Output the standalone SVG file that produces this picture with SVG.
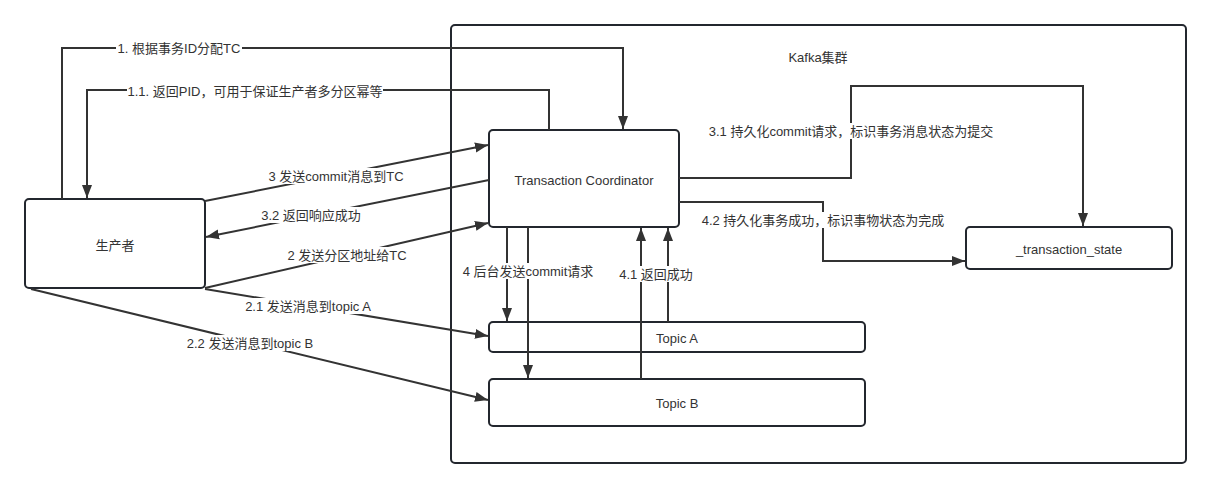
<svg xmlns="http://www.w3.org/2000/svg" width="1212" height="488" viewBox="0 0 1212 488">
<style>
.box{fill:#fff;stroke:#23272e;stroke-width:2}
.ln{fill:none;stroke:#333;stroke-width:2}
text{font-family:"Liberation Sans","Noto Sans CJK SC",sans-serif;fill:#333;text-anchor:middle;dominant-baseline:central}
.nt{font-size:13px}
.lb{font-size:13px}
.bg{fill:#fff}
</style>
<defs>
<marker id="ar" markerUnits="userSpaceOnUse" markerWidth="14" markerHeight="12" viewBox="0 0 14 12" refX="13" refY="6" orient="auto">
<path d="M0,1 L13,6 L0,11 Z" fill="#333"/>
</marker>
</defs>
<rect width="1212" height="488" fill="#fff"/>
<g id="kafka">
<rect class="box" x="451" y="25" width="735" height="438" rx="4" fill="none"/>
<text class="nt" x="818" y="57">Kafka集群</text>
</g>
<g id="producer">
<rect class="box" x="25" y="199" width="180" height="89" rx="4"/>
<text class="nt" x="115" y="245">生产者</text>
</g>
<g id="tc">
<rect class="box" x="489" y="130" width="190" height="97" rx="4"/>
<text class="nt" x="584" y="180">Transaction Coordinator</text>
</g>
<g id="ts">
<rect class="box" x="966" y="227" width="206" height="42" rx="4"/>
<text class="nt" x="1069" y="249">_transaction_state</text>
</g>
<g id="topicA">
<rect class="box" x="489" y="322" width="376" height="30" rx="4"/>
<text class="nt" x="677" y="338">Topic A</text>
</g>
<g id="topicB">
<rect class="box" x="489" y="379" width="376" height="47" rx="4"/>
<text class="nt" x="677" y="403">Topic B</text>
</g>
<g id="connectors">
<path class="ln" d="M62,199 V48 H623 V129" marker-end="url(#ar)"/>
<path class="ln" d="M549,130 V90 H87 V198" marker-end="url(#ar)"/>
<path class="ln" d="M205,201 L488,145" marker-end="url(#ar)"/>
<path class="ln" d="M489,180 L206,237" marker-end="url(#ar)"/>
<path class="ln" d="M205,288 L488,223" marker-end="url(#ar)"/>
<path class="ln" d="M205,289 L488,336" marker-end="url(#ar)"/>
<path class="ln" d="M31,289 L488,400" marker-end="url(#ar)"/>
<path class="ln" d="M507,227 V321" marker-end="url(#ar)"/>
<path class="ln" d="M528,227 V378" marker-end="url(#ar)"/>
<path class="ln" d="M641,379 V228" marker-end="url(#ar)"/>
<path class="ln" d="M668,322 V228" marker-end="url(#ar)"/>
<path class="ln" d="M679,178 H851 V86 H1083 V226" marker-end="url(#ar)"/>
<path class="ln" d="M679,202 H823 V261 H965" marker-end="url(#ar)"/>
<rect class="bg" x="116" y="40" width="126" height="16"/>
<text class="lb" x="179" y="48">1. 根据事务ID分配TC</text>
<rect class="bg" x="127" y="83" width="256" height="16"/>
<text class="lb" x="255" y="91">1.1. 返回PID，可用于保证生产者多分区幂等</text>
<rect class="bg" x="267" y="168" width="139" height="16"/>
<text class="lb" x="336" y="176">3 发送commit消息到TC</text>
<rect class="bg" x="262" y="207" width="99" height="16"/>
<text class="lb" x="311" y="215">3.2 返回响应成功</text>
<rect class="bg" x="288" y="247" width="118" height="16"/>
<text class="lb" x="347" y="255">2 发送分区地址给TC</text>
<rect class="bg" x="243" y="298" width="130" height="16"/>
<text class="lb" x="308" y="306">2.1 发送消息到topic A</text>
<rect class="bg" x="186" y="335" width="129" height="16"/>
<text class="lb" x="250" y="343">2.2 发送消息到topic B</text>
<rect class="bg" x="460" y="263" width="137" height="16"/>
<text class="lb" x="528" y="271">4 后台发送commit请求</text>
<rect class="bg" x="619" y="266" width="74" height="16"/>
<text class="lb" x="656" y="274">4.1 返回成功</text>
<rect class="bg" x="706" y="123" width="290" height="16"/>
<text class="lb" x="851" y="131">3.1 持久化commit请求，标识事务消息状态为提交</text>
<rect class="bg" x="702" y="212" width="242" height="16"/>
<text class="lb" x="823" y="220">4.2 持久化事务成功，标识事物状态为完成</text>
</g>
</svg>
